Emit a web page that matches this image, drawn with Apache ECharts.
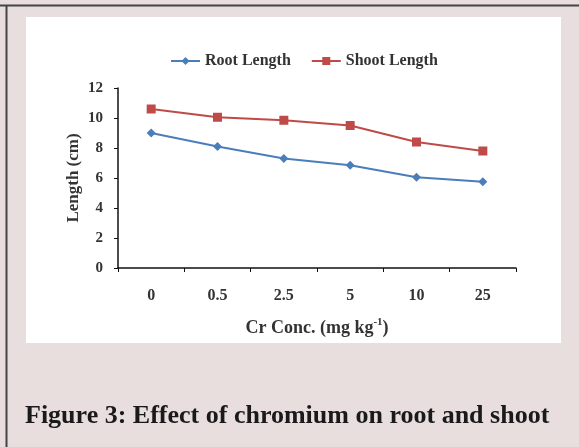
<!DOCTYPE html>
<html>
<head>
<meta charset="utf-8">
<script src="https://cdn.jsdelivr.net/npm/echarts@6/dist/echarts.min.js"></script>
<style>
html,body{margin:0;padding:0;background:#e7dedd;}
#c{width:579px;height:447px;}
</style>
</head>
<body>
<div id="c"></div>
<script>
const categories = ['0', '0.5', '2.5', '5', '10', '25'];
const rootLength = [9.0, 8.1, 7.3, 6.85, 6.05, 5.75];
const shootLength = [10.6, 10.05, 9.85, 9.5, 8.4, 7.8];
const seriesNames = ['Root Length', 'Shoot Length'];
const yTicks = {min: 0, max: 12, interval: 2};

const serif = '"Liberation Serif", "Times New Roman", serif';
const chart = echarts.init(document.getElementById('c'), null, {renderer: 'canvas'});
chart.setOption({
  backgroundColor: '#e7dedd',
  animation: false,
  graphic: [
    {type: 'rect', z: -10, shape: {x: 26, y: 17, width: 535, height: 326}, style: {fill: '#ffffff'}},
    {type: 'line', z: -5, shape: {x1: 0, y1: 5.5, x2: 579, y2: 5.5}, style: {stroke: '#444', lineWidth: 2}},
    {type: 'line', z: -5, shape: {x1: 6.5, y1: 5, x2: 6.5, y2: 447}, style: {stroke: '#444', lineWidth: 2}},
    {type: 'text', x: 25, y: 403, style: {text: 'Figure 3: Effect of chromium on root and shoot', font: 'bold 26px ' + serif, fill: '#1a1a1a', verticalAlign: 'top'}}
  ],
  legend: {
    data: seriesNames,
    top: 48,
    left: 165,
    itemWidth: 29,
    itemHeight: 10,
    itemGap: 20,
    textStyle: {fontFamily: serif, fontWeight: 'bold', fontSize: 16, color: '#333'}
  },
  grid: {left: 118, right: 63, top: 88, bottom: 179, containLabel: false},
  xAxis: {
    type: 'category',
    data: categories,
    boundaryGap: true,
    axisLine: {lineStyle: {color: '#111', width: 1.5}},
    axisTick: {show: true, inside: false, length: 4, alignWithLabel: false, lineStyle: {color: '#111'}},
    axisLabel: {margin: 20, fontFamily: serif, fontWeight: 'bold', fontSize: 16, color: '#333'},
    name: '{a|Cr Conc. (mg kg}{s|-1}{a|)}',
    nameLocation: 'middle',
    nameGap: 49,
    nameMoveOverlap: false,
    nameTextStyle: {
      rich: {
        a: {fontFamily: serif, fontWeight: 'bold', fontSize: 18, color: '#333', verticalAlign: 'bottom', lineHeight: 20},
        s: {fontFamily: serif, fontWeight: 'bold', fontSize: 11, color: '#333', verticalAlign: 'top', lineHeight: 20}
      }
    }
  },
  yAxis: {
    type: 'value',
    min: yTicks.min, max: yTicks.max, interval: yTicks.interval,
    splitLine: {show: false},
    axisLine: {show: true, lineStyle: {color: '#111', width: 1.5}},
    axisTick: {show: true, inside: false, length: 4, lineStyle: {color: '#111'}},
    axisLabel: {margin: 15, fontFamily: serif, fontWeight: 'bold', fontSize: 15, color: '#333'},
    name: 'Length (cm)',
    nameLocation: 'middle',
    nameGap: 36,
    nameMoveOverlap: false,
    nameTextStyle: {fontFamily: serif, fontWeight: 'bold', fontSize: 17, color: '#333'}
  },
  series: [
    {
      name: seriesNames[0], type: 'line', data: rootLength,
      symbol: 'diamond', symbolSize: 9,
      lineStyle: {color: '#4a7ebb', width: 2},
      itemStyle: {color: '#4a7ebb'}
    },
    {
      name: seriesNames[1], type: 'line', data: shootLength,
      symbol: 'rect', symbolSize: 9,
      lineStyle: {color: '#be4b48', width: 2},
      itemStyle: {color: '#be4b48'}
    }
  ]
});
</script>
</body>
</html>
